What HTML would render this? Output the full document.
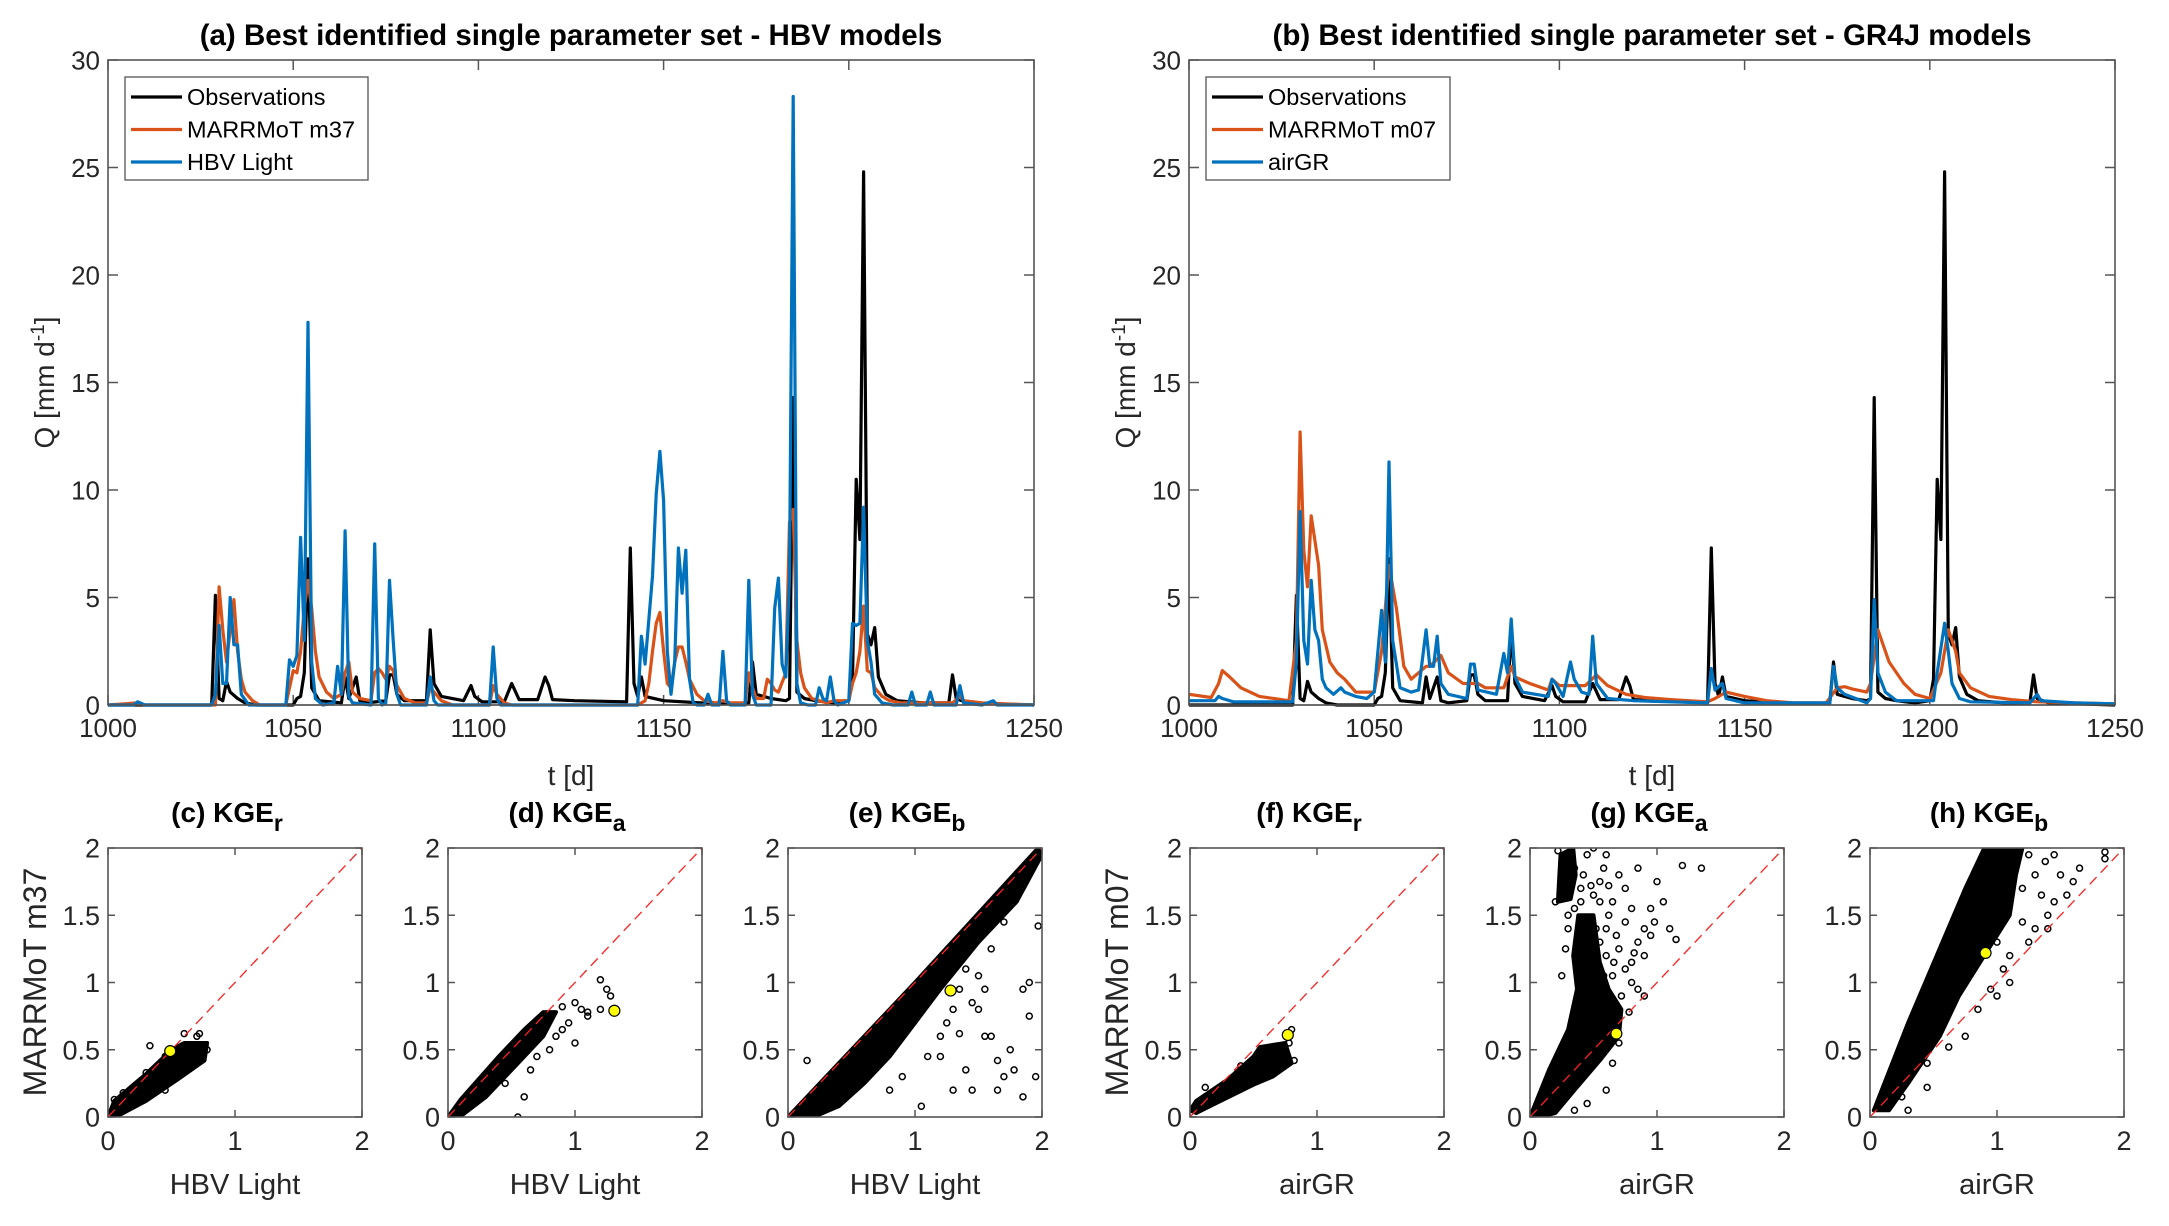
<!DOCTYPE html>
<html><head><meta charset="utf-8"><style>
html,body{margin:0;padding:0;background:#fff;}
svg{display:block;font-family:"Liberation Sans",sans-serif;}
</style></head><body>
<svg id="fig" width="2169" height="1226" viewBox="0 0 2169 1226" xmlns="http://www.w3.org/2000/svg"></svg>
<script>
// ---------- time series data [day, Q] ----------
const obsPts=[[1000,0],[1028,0],[1029,5.1],[1030,0.3],[1031,0.2],[1032,1.1],[1033,0.6],[1035,0.3],[1037,0.1],[1040,0],[1050,0],[1051,0.3],[1052,0.4],[1053,1.5],[1054,6.8],[1055,0.8],[1057,0.2],[1063,0.1],[1064,1.3],[1065,0.3],[1067,1.3],[1068,0.2],[1070,0.1],[1075,0.2],[1076,1.4],[1077,1.4],[1078,0.5],[1080,0.2],[1086,0.2],[1087,3.5],[1088,1.0],[1090,0.4],[1096,0.2],[1098,0.9],[1099,0.4],[1101,0.15],[1107,0.15],[1109,1.0],[1111,0.25],[1116,0.25],[1118,1.3],[1119,0.9],[1120,0.25],[1126,0.2],[1140,0.15],[1141,7.3],[1142,1.0],[1143,0.4],[1144,1.3],[1145,0.4],[1150,0.2],[1160,0.1],[1166,0.05],[1173,0.1],[1174,2.0],[1175,0.5],[1179,0.3],[1183,0.2],[1184,0.3],[1185,14.3],[1186,0.6],[1188,0.3],[1191,0.2],[1196,0.1],[1200,0.2],[1201,1.2],[1202,10.5],[1203,7.7],[1204,24.8],[1205,3.3],[1206,2.8],[1207,3.6],[1208,1.3],[1210,0.5],[1213,0.2],[1220,0.1],[1227,0.1],[1228,1.4],[1229,0.3],[1232,0.1],[1250,0]];
const m37Pts=[[1000,0],[1008,0.1],[1010,0],[1029,0],[1030,5.5],[1031,3.5],[1032,2.0],[1033,3.5],[1034,4.9],[1035,2.5],[1036,1.2],[1037,0.6],[1039,0.2],[1041,0],[1048,0],[1049,0.8],[1050,1.6],[1051,1.5],[1052,2.5],[1053,4.5],[1054,5.8],[1055,4.5],[1056,2.5],[1057,1.3],[1059,0.6],[1061,0.3],[1063,0.5],[1064,1.5],[1065,2.0],[1066,0.6],[1068,0.3],[1071,0.2],[1072,1.5],[1073,1.7],[1074,1.5],[1075,1.2],[1076,1.8],[1077,1.6],[1078,0.9],[1080,0.3],[1083,0.1],[1086,0.1],[1087,0.8],[1088,0.6],[1090,0.2],[1093,0],[1103,0],[1104,0.9],[1105,0.5],[1107,0.1],[1109,0],[1143,0],[1145,0.2],[1146,1.0],[1147,2.5],[1148,3.8],[1149,4.3],[1150,2.5],[1151,1.0],[1152,0.8],[1153,2.0],[1154,2.7],[1155,2.7],[1156,2.0],[1157,1.2],[1159,0.5],[1161,0.2],[1164,0.1],[1166,0.2],[1168,0.1],[1172,0.1],[1173,1.5],[1174,0.8],[1175,0.3],[1177,0.3],[1178,1.2],[1179,1.0],[1180,0.7],[1181,0.6],[1183,1.5],[1184,8.5],[1185,9.1],[1186,3.0],[1187,1.5],[1188,0.8],[1190,0.3],[1192,0.2],[1194,0.1],[1196,0.2],[1200,0.2],[1201,1.0],[1202,1.5],[1203,2.5],[1204,4.6],[1205,1.6],[1206,1.5],[1207,0.8],[1209,0.4],[1211,0.2],[1214,0.1],[1228,0.1],[1230,0.4],[1231,0.2],[1236,0.1],[1250,0]];
const hbvPts=[[1000,0],[1007,0],[1008,0.15],[1010,0],[1028,0],[1029,0.5],[1030,3.7],[1031,1.0],[1032,1.0],[1033,5.0],[1034,2.8],[1035,2.8],[1036,0.5],[1038,0],[1048,0],[1049,2.1],[1050,1.8],[1051,2.3],[1052,7.8],[1053,3.0],[1054,17.8],[1055,2.0],[1056,0.3],[1058,0],[1061,0.1],[1062,1.8],[1063,0.5],[1064,8.1],[1065,0.4],[1066,0.1],[1071,0],[1072,7.5],[1073,0.3],[1074,0],[1075,0.1],[1076,5.8],[1077,3.0],[1078,0.5],[1079,0],[1086,0],[1087,1.3],[1088,0.2],[1089,0],[1103,0],[1104,2.7],[1105,0.3],[1106,0],[1143,0],[1144,3.2],[1145,1.9],[1147,6.0],[1148,9.8],[1149,11.8],[1150,9.5],[1151,2.5],[1152,0.5],[1153,2.0],[1154,7.3],[1155,5.2],[1156,7.2],[1157,1.2],[1158,0.1],[1159,0],[1161,0],[1162,0.5],[1163,0],[1165,0],[1166,2.5],[1167,0.2],[1168,0],[1172,0],[1173,5.8],[1174,0.5],[1175,0],[1179,0],[1180,4.5],[1181,5.9],[1182,1.9],[1183,1.3],[1184,6.0],[1185,28.3],[1186,1.0],[1187,0.1],[1189,0],[1191,0],[1192,0.8],[1193,0.3],[1194,0.2],[1195,1.3],[1196,0.2],[1197,0],[1200,0.2],[1201,3.8],[1202,3.7],[1203,3.8],[1204,9.2],[1205,3.0],[1206,2.0],[1207,0.5],[1209,0.1],[1212,0],[1216,0],[1217,0.6],[1218,0],[1221,0],[1222,0.6],[1223,0],[1229,0],[1230,0.9],[1231,0.1],[1236,0],[1239,0.2],[1240,0],[1250,0]];
const m07Pts=[[1000,0.5],[1006,0.35],[1008,1.0],[1009,1.6],[1011,1.3],[1014,0.8],[1019,0.4],[1027,0.2],[1029,3.0],[1030,12.7],[1031,7.2],[1032,5.5],[1033,8.8],[1035,6.5],[1036,3.5],[1038,2.0],[1040,1.5],[1042,1.2],[1045,0.6],[1050,0.6],[1052,2.5],[1054,6.5],[1056,4.5],[1058,1.8],[1060,1.2],[1064,1.8],[1065,1.8],[1068,2.3],[1070,1.5],[1074,1.0],[1078,1.0],[1080,0.8],[1085,0.8],[1087,1.8],[1088,1.3],[1092,1.0],[1097,0.7],[1098,1.2],[1100,0.9],[1103,0.9],[1107,0.9],[1110,1.4],[1113,0.9],[1118,0.5],[1123,0.35],[1130,0.25],[1140,0.15],[1142,0.3],[1145,0.6],[1150,0.4],[1156,0.2],[1163,0.1],[1172,0.1],[1175,0.8],[1177,0.85],[1179,0.75],[1183,0.6],[1184,1.0],[1186,3.5],[1189,2.0],[1193,1.0],[1196,0.5],[1200,0.3],[1203,1.5],[1205,3.5],[1207,2.5],[1208,1.5],[1211,0.8],[1216,0.4],[1222,0.25],[1229,0.15],[1239,0.1],[1250,0.05]];
const airPts=[[1000,0.2],[1007,0.2],[1008,0.4],[1009,0.3],[1012,0.15],[1028,0.15],[1029,2.0],[1030,9.0],[1031,3.0],[1032,1.9],[1033,5.8],[1034,3.5],[1035,3.0],[1036,1.2],[1037,0.8],[1039,0.5],[1041,0.8],[1042,0.6],[1045,0.4],[1048,0.3],[1050,0.6],[1052,4.4],[1053,2.0],[1054,11.3],[1055,3.0],[1057,0.8],[1060,0.6],[1062,0.7],[1064,3.5],[1065,1.8],[1066,1.8],[1067,3.2],[1068,1.0],[1070,0.5],[1075,0.3],[1076,1.9],[1077,1.9],[1078,0.7],[1083,0.5],[1085,2.4],[1086,1.5],[1087,4.0],[1088,1.3],[1090,0.6],[1097,0.4],[1098,1.2],[1099,1.0],[1101,0.4],[1103,2.0],[1104,1.2],[1106,0.6],[1108,0.5],[1109,3.2],[1110,1.0],[1113,0.3],[1120,0.2],[1140,0.1],[1141,1.7],[1142,0.7],[1144,1.0],[1145,0.3],[1150,0.1],[1173,0.1],[1174,1.8],[1175,0.8],[1177,0.5],[1180,0.3],[1183,0.1],[1184,0.3],[1185,4.9],[1186,1.5],[1188,0.6],[1191,0.2],[1201,0.2],[1202,1.5],[1204,3.8],[1205,2.5],[1206,1.0],[1208,0.3],[1211,0.15],[1227,0.1],[1229,0.5],[1230,0.2],[1239,0.1],[1250,0.05]];
const xTicksTS=[1000,1050,1100,1150,1200,1250];
const yTicksTS=[0,5,10,15,20,25,30];
// ---------- scatter data ----------
const xTicksSc=[0,1,2];
const yTicksSc=[0,0.5,1,1.5,2];
const yTickLabelsSc=["0","0.5","1","1.5","2"];
const cCloud=[[0,0],[0.05,0.12],[0.3,0.32],[0.5,0.5],[0.6,0.55],[0.78,0.55],[0.76,0.42],[0.55,0.28],[0.3,0.12],[0.1,0.02]];
const cPts=[[0.33,0.53],[0.6,0.62],[0.7,0.6],[0.45,0.45],[0.45,0.2],[0.12,0.18],[0.05,0.13],[0.72,0.62],[0.66,0.42],[0.55,0.38],[0.78,0.5],[0.3,0.33]];
const cBest=[0.49,0.49];
const dCloud=[[0,0],[0.1,0.13],[0.4,0.45],[0.6,0.65],[0.75,0.78],[0.85,0.78],[0.75,0.6],[0.55,0.4],[0.3,0.15],[0.12,0.02]];
const dPts=[[1.2,1.02],[1.25,0.95],[1.28,0.9],[1.2,0.8],[1.1,0.78],[1.05,0.8],[0.95,0.7],[1.0,0.55],[0.6,0.15],[0.55,0.0],[0.65,0.35],[1.1,0.75],[1.0,0.85],[0.9,0.65],[0.85,0.6],[0.8,0.5],[0.7,0.45],[0.9,0.82],[0.45,0.25]];
const dBest=[1.31,0.79];
const eCloud=[[0,0],[1.0,1.0],[1.97,2.0],[2.0,1.95],[1.8,1.6],[1.5,1.3],[1.2,0.95],[1.0,0.7],[0.8,0.45],[0.6,0.25],[0.4,0.08],[0.2,0]];
const ePts=[[1.97,1.42],[1.6,1.25],[1.5,1.05],[1.45,0.85],[1.75,0.5],[1.9,0.75],[1.85,0.95],[1.35,0.62],[1.7,0.3],[1.85,0.15],[1.95,0.3],[1.3,0.2],[1.05,0.08],[1.4,0.35],[1.6,0.6],[1.5,0.8],[1.2,0.45],[0.15,0.42],[1.55,0.6],[1.45,0.2],[1.78,0.35],[1.65,0.2],[1.9,1.0],[1.55,0.95],[1.65,0.42],[1.3,0.8],[1.25,0.7],[1.4,1.1],[1.35,0.95],[1.7,1.45],[1.2,0.6],[1.1,0.45],[0.9,0.3],[0.8,0.2]];
const eBest=[1.28,0.94];
const fCloud=[[0,0.05],[0.05,0.12],[0.3,0.28],[0.5,0.45],[0.55,0.52],[0.75,0.55],[0.8,0.4],[0.65,0.3],[0.5,0.24],[0.2,0.1],[0.05,0.03]];
const fPts=[[0.8,0.65],[0.82,0.42],[0.78,0.55],[0.6,0.5],[0.72,0.5],[0.12,0.22],[0.7,0.45],[0.4,0.38]];
const fBest=[0.77,0.61];
const gCloud=[[0,0],[0.15,0.35],[0.3,0.65],[0.37,0.95],[0.34,1.2],[0.38,1.5],[0.5,1.5],[0.55,1.15],[0.62,0.95],[0.72,0.8],[0.7,0.6],[0.55,0.42],[0.35,0.2],[0.2,0.03],[0.08,0]];
const gCloud2=[[0.22,1.6],[0.24,1.95],[0.34,2.0],[0.36,1.8],[0.32,1.62]];
const gPts=[[0.22,1.98],[0.28,1.9],[0.35,1.85],[0.45,1.95],[0.5,2.0],[0.6,1.95],[0.25,1.75],[0.3,1.65],[0.4,1.7],[0.55,1.75],[0.7,1.8],[0.85,1.85],[0.75,1.7],[0.2,1.6],[0.35,1.55],[0.65,1.6],[0.8,1.55],[0.45,1.45],[0.6,1.4],[0.75,1.45],[0.9,1.4],[0.3,1.4],[0.55,1.3],[0.7,1.25],[0.85,1.3],[0.95,1.35],[0.6,1.2],[0.8,1.15],[0.9,1.2],[0.25,1.05],[0.65,1.05],[0.8,1.0],[0.85,0.95],[0.72,0.9],[0.9,0.9],[0.7,0.55],[0.65,0.4],[0.6,0.2],[0.45,0.1],[0.35,0.05],[0.65,0.7],[0.78,0.78],[0.4,1.6],[0.5,1.65],[0.28,1.25],[0.45,1.25],[0.5,1.1],[1.15,1.32],[1.1,1.4],[1.35,1.85],[1.2,1.87],[1.0,1.75],[0.95,1.55],[1.05,1.6],[0.98,1.45],[0.62,1.5],[0.68,1.35],[0.58,1.85],[0.52,1.4],[0.42,1.8],[0.48,1.72],[0.3,1.5],[0.55,1.6],[0.62,1.72],[0.4,1.35],[0.66,1.15],[0.58,1.05],[0.75,1.1],[0.82,1.22]];
const gBest=[0.68,0.62];
const hCloud=[[0.03,0.05],[0.3,0.7],[0.75,1.7],[0.9,2.0],[1.2,2.0],[1.15,1.8],[1.1,1.5],[0.9,1.2],[0.7,0.9],[0.55,0.6],[0.3,0.25],[0.15,0.05]];
const hPts=[[1.85,1.97],[1.85,1.92],[1.65,1.85],[1.5,1.8],[1.6,1.75],[1.55,1.65],[1.45,1.6],[1.4,1.5],[1.3,1.4],[1.25,1.3],[1.35,1.65],[1.2,1.45],[1.1,1.2],[1.05,1.1],[1.1,1.0],[0.95,0.95],[1.0,0.9],[0.85,0.8],[0.75,0.6],[0.62,0.52],[0.45,0.4],[0.35,0.35],[0.45,0.22],[0.3,0.05],[0.25,0.15],[1.4,1.4],[1.3,1.8],[1.45,1.95],[1.38,1.9],[1.25,1.95],[1.2,1.7],[1.0,1.3]];
const hBest=[0.91,1.22];

const NS="http://www.w3.org/2000/svg";
const svg=document.getElementById('fig');
function el(tag,attrs,parent){const e=document.createElementNS(NS,tag);for(const k in attrs)e.setAttribute(k,attrs[k]);(parent||svg).appendChild(e);return e;}
const AX="#262626", BOXC="#555";

function axesBox(g,L,T,W,H,xt,xs,yt,ys,ylabs,fs,tickLen){
  el('rect',{x:L,y:T,width:W,height:H,fill:'#fff',stroke:'none'},g);
  xt.forEach((v,i)=>{const x=xs(v);
    el('line',{x1:x,y1:T+H,x2:x,y2:T+H-tickLen,stroke:BOXC,'stroke-width':1.5},g);
    el('line',{x1:x,y1:T,x2:x,y2:T+tickLen,stroke:BOXC,'stroke-width':1.5},g);
    const t=el('text',{x:x,y:T+H+fs+6,'font-size':fs,fill:AX,'text-anchor':'middle'},g);
    
    
    t.textContent=String(v);});
  yt.forEach((v,i)=>{const y=ys(v);
    el('line',{x1:L,y1:y,x2:L+tickLen,y2:y,stroke:BOXC,'stroke-width':1.5},g);
    el('line',{x1:L+W,y1:y,x2:L+W-tickLen,y2:y,stroke:BOXC,'stroke-width':1.5},g);
    const t=el('text',{x:L-8,y:y+fs*0.36,'font-size':fs,fill:AX,'text-anchor':'end'},g);
    
    
    t.textContent=ylabs?ylabs[i]:String(v);});
}
function frame(g,L,T,W,H){el('rect',{x:L,y:T,width:W,height:H,fill:'none',stroke:BOXC,'stroke-width':1.6},g);}

// ---------- time series panels ----------
function tsPanel(id,L,title,series,legendW){
  const T=60,W=926,H=645;
  const g=el('g',{});
  
  
  const xs=v=>L+(v-1000)/250*W, ys=v=>T+H-(v/30)*H;
  axesBox(g,L,T,W,H,xTicksTS,xs,yTicksTS,ys,null,26,10);
  el('line',{x1:L,y1:ys(0),x2:L+W,y2:ys(0),stroke:'#999','stroke-width':1.5},g);
  series.forEach(s=>{
    const p=el('polyline',{points:s.pts.map(d=>xs(d[0]).toFixed(1)+','+ys(d[1]).toFixed(1)).join(' '),fill:'none',stroke:s.c,'stroke-width':3.2,'stroke-linejoin':'round'},g);
    
    
  });
  frame(g,L,T,W,H);
  const t=el('text',{x:L+W/2,y:45,'font-size':29.5,'font-weight':'bold',fill:'#000','text-anchor':'middle'},g);
  
  
  t.textContent=title;
  const xl=el('text',{x:L+W/2,y:785,'font-size':28,fill:AX,'text-anchor':'middle'},g);
  
  
  xl.textContent='t [d]';
  const yl=el('text',{x:0,y:0,'font-size':28,fill:AX,'text-anchor':'middle',transform:`translate(${L-54},${T+H/2}) rotate(-90)`},g);
  
  
  yl.innerHTML='Q [mm d<tspan dy="-10" font-size="19">-1</tspan><tspan dy="10">]</tspan>';
  // legend
  const lg=el('g',{},g);
  
  
  el('rect',{x:L+17,y:77,width:legendW,height:103,fill:'#fff',stroke:'#555','stroke-width':1.3},lg);
  series.forEach((s,i)=>{const y=97+i*32.5;
    const e=el('g',{},lg);
    
    
    el('line',{x1:L+23,y1:y,x2:L+74,y2:y,stroke:s.c,'stroke-width':3.2},e);
    const tt=el('text',{x:L+79,y:y+8,'font-size':23.5,fill:'#000'},e);
    tt.textContent=s.label;});
}
tsPanel('panel-a-hbv',108,'(a) Best identified single parameter set - HBV models',
 [{pts:obsPts,c:'#000',name:'observations',label:'Observations'},{pts:m37Pts,c:'#D95319',name:'marrmot-m37',label:'MARRMoT m37'},{pts:hbvPts,c:'#0072BD',name:'hbv-light',label:'HBV Light'}],243);
tsPanel('panel-b-gr4j',1189,'(b) Best identified single parameter set - GR4J models',
 [{pts:obsPts,c:'#000',name:'observations',label:'Observations'},{pts:m07Pts,c:'#D95319',name:'marrmot-m07',label:'MARRMoT m07'},{pts:airPts,c:'#0072BD',name:'airgr',label:'airGR'}],244);

// ---------- scatter panels ----------
function scPanel(id,L,lab,sub,xlabel,clouds,pts,best){
  const T=848,W=254,H=269;
  const g=el('g',{});
  
  
  const xs=v=>L+v/2*W, ys=v=>T+H-v/2*H;
  axesBox(g,L,T,W,H,xTicksSc,xs,yTicksSc,ys,yTickLabelsSc,27,7);
  const clip=el('clipPath',{id:'clip'+id},g);
  el('rect',{x:L,y:T,width:W,height:H},clip);
  const pg=el('g',{'clip-path':`url(#clip${id})`},g);
  clouds.forEach(cl=>{const p=el('polygon',{points:cl.map(d=>xs(d[0]).toFixed(1)+','+ys(d[1]).toFixed(1)).join(' '),fill:'#000',stroke:'#000','stroke-width':4,'stroke-linejoin':'round'},pg);
    
    });
  pts.forEach(d=>{const c=el('circle',{cx:xs(d[0]),cy:ys(d[1]),r:3,fill:'none',stroke:'#000','stroke-width':1.5},pg);
    
    });
  const dl=el('line',{x1:xs(0),y1:ys(0),x2:xs(2),y2:ys(2),stroke:'#ff2020','stroke-width':1.3,'stroke-dasharray':'10,6'},pg);
  
  
  const b=el('circle',{cx:xs(best[0]),cy:ys(best[1]),r:5.5,fill:'#ffff00',stroke:'#000','stroke-width':1.2},pg);
  
  
  frame(g,L,T,W,H);
  const t=el('text',{x:L+W/2-8,y:822,'font-size':28,'font-weight':'bold',fill:'#000','text-anchor':'middle'},g);
  
  
  t.innerHTML=lab+' KGE<tspan dy="9" font-size="23">'+sub+'</tspan>';
  const xl=el('text',{x:L+W/2,y:1194,'font-size':29,fill:AX,'text-anchor':'middle'},g);
  
  
  xl.textContent=xlabel;
}
scPanel('panel-c',108,'(c)','r','HBV Light',[cCloud],cPts,cBest);
scPanel('panel-d',448,'(d)','a','HBV Light',[dCloud],dPts,dBest);
scPanel('panel-e',788,'(e)','b','HBV Light',[eCloud],ePts,eBest);
scPanel('panel-f',1190,'(f)','r','airGR',[fCloud],fPts,fBest);
scPanel('panel-g',1530,'(g)','a','airGR',[gCloud,gCloud2],gPts,gBest);
scPanel('panel-h',1870,'(h)','b','airGR',[hCloud],hPts,hBest);
[[46,'MARRMoT m37'],[1128,'MARRMoT m07']].forEach(a=>{
  const t=el('text',{x:0,y:0,'font-size':32,fill:AX,'text-anchor':'middle',transform:`translate(${a[0]},982) rotate(-90)`});
  
  
  t.textContent=a[1];});
</script>
</body></html>
